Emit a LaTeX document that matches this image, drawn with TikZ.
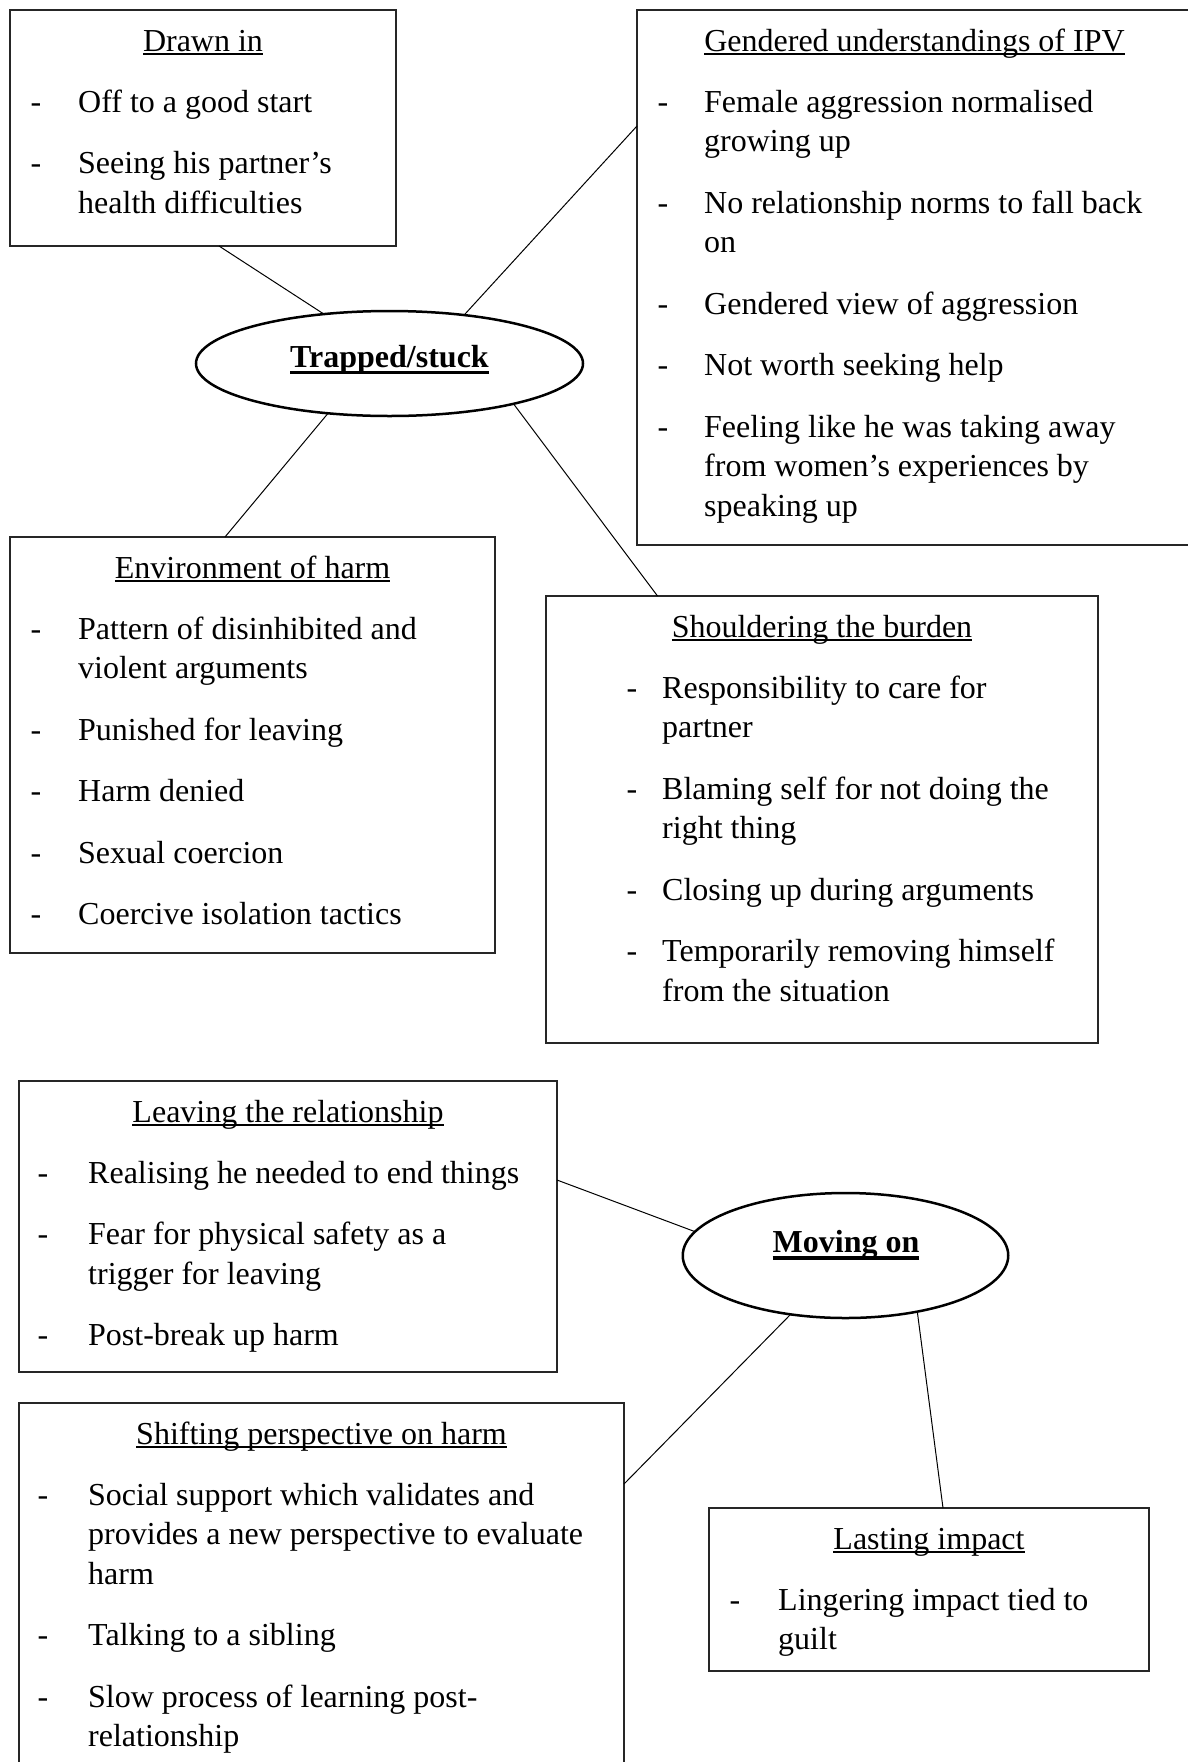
\documentclass[tikz,border=0pt]{standalone}
\usepackage{fontspec}
\setmainfont{Liberation Serif}
\usetikzlibrary{shapes.geometric}
\newcommand\myul[3]{\setbox0\hbox{#3}\rlap{\rule[-#1]{\wd0}{#2}}\box0}
\begin{document}
\begin{tikzpicture}[x=1pt,y=-1pt,
  box/.style={draw=black!85, line width=1.8pt, rectangle, anchor=north west, inner sep=0pt, outer sep=0pt},
  ell/.style={draw=black, line width=2.5pt, ellipse, inner sep=0pt, outer sep=0pt},
  conn/.style={draw=black, line width=1pt},
  txt/.style={inner sep=0pt, anchor=base west, yshift=-2pt, font=\fontsize{32}{39.5}\selectfont},
  ttl/.style={inner sep=0pt, anchor=base, yshift=-3pt, font=\fontsize{32}{39.5}\selectfont},
  bul/.style={inner sep=0pt, anchor=base, yshift=-2pt, font=\fontsize{32}{39.5}\selectfont},
  hub/.style={inner sep=0pt, anchor=base, font=\fontsize{32}{39.5}\selectfont\bfseries},
]
\useasboundingbox[fill=white] (0,0) rectangle (1187,1762);

% boxes
\node[box, minimum width=386pt, minimum height=236pt] (drawn) at (10,10) {};
\node[box, minimum width=555pt, minimum height=535pt] (gend) at (637,10) {};
\node[box, minimum width=485pt, minimum height=416pt] (env) at (10,537) {};
\node[box, minimum width=552pt, minimum height=447pt] (shoul) at (546,596) {};
\node[box, minimum width=538pt, minimum height=291pt] (leav) at (19,1081) {};
\node[box, minimum width=605pt, minimum height=380pt] (shift) at (19,1403) {};
\node[box, minimum width=440pt, minimum height=163pt] (last) at (709,1508) {};

% hubs
\node[ell, minimum width=387pt, minimum height=105pt] (trap) at (389.5,363.5) {};
\node[hub] (trapt) at (389.5,367.3) {\myul{7pt}{3.5pt}{Trapped/stuck}};
\node[ell, minimum width=325.5pt, minimum height=125pt] (mov) at (845.5,1255.5) {};
\node[hub] (movt) at (846,1252.7) {\myul{7pt}{3.5pt}{Moving on}};

% titles
\node[ttl] (drawnt) at (203,48.5) {\myul{3.8pt}{2pt}{Drawn in}};
\node[ttl] (gendt) at (914.5,48.5) {\myul{3.8pt}{2pt}{Gendered understandings of IPV}};
\node[ttl] (envt) at (252.5,575.5) {\myul{3.8pt}{2pt}{Environment of harm}};
\node[ttl] (shoult) at (822,634.5) {\myul{3.8pt}{2pt}{Shouldering the burden}};
\node[ttl] (leavt) at (288,1119.5) {\myul{3.8pt}{2pt}{Leaving the relationship}};
\node[ttl] (shiftt) at (321.5,1441.5) {\myul{3.8pt}{2pt}{Shifting perspective on harm}};
\node[ttl] (lastt) at (929,1546.5) {\myul{3.8pt}{2pt}{Lasting impact}};

% Drawn in
\foreach \y/\t [count=\i] in {110/Off to a good start, 171.5/Seeing his partner’s, 211/health difficulties}
  \node[txt] (drawn-l\i) at (78,\y) {\t};
\foreach \y [count=\i] in {110,171.5}
  \node[bul] (drawn-b\i) at (36,\y) {-};

% Gendered
\foreach \y/\t [count=\i] in {110/Female aggression normalised, 149.5/growing up,
  211/No relationship norms to fall back, 250.5/on, 312/Gendered view of aggression,
  373.5/Not worth seeking help, 435/Feeling like he was taking away,
  474.5/from women’s experiences by, 514/speaking up}
  \node[txt] (gend-l\i) at (704,\y) {\t};
\foreach \y [count=\i] in {110,211,312,373.5,435}
  \node[bul] (gend-b\i) at (663,\y) {-};

% Environment
\foreach \y/\t [count=\i] in {637/Pattern of disinhibited and, 676.5/violent arguments,
  738/Punished for leaving, 799.5/Harm denied, 861/Sexual coercion, 922.5/Coercive isolation tactics}
  \node[txt] (env-l\i) at (78,\y) {\t};
\foreach \y [count=\i] in {637,738,799.5,861,922.5}
  \node[bul] (env-b\i) at (36,\y) {-};

% Shouldering
\foreach \y/\t [count=\i] in {696/Responsibility to care for, 735.5/partner,
  797/Blaming self for not doing the, 836.5/right thing, 898/Closing up during arguments,
  959.5/Temporarily removing himself, 999/from the situation}
  \node[txt] (shoul-l\i) at (662,\y) {\t};
\foreach \y [count=\i] in {696,797,898,959.5}
  \node[bul] (shoul-b\i) at (632,\y) {-};

% Leaving
\foreach \y/\t [count=\i] in {1181/Realising he needed to end things, 1242.5/Fear for physical safety as a,
  1282/trigger for leaving, 1343.5/Post-break up harm}
  \node[txt] (leav-l\i) at (88,\y) {\t};
\foreach \y [count=\i] in {1181,1242.5,1343.5}
  \node[bul] (leav-b\i) at (43,\y) {-};

% Shifting
\foreach \y/\t [count=\i] in {1503/Social support which validates and, 1542.5/provides a new perspective to evaluate,
  1582/harm, 1643.5/Talking to a sibling, 1705/Slow process of learning post-, 1744.5/relationship}
  \node[txt] (shift-l\i) at (88,\y) {\t};
\foreach \y [count=\i] in {1503,1643.5,1705}
  \node[bul] (shift-b\i) at (43,\y) {-};

% Lasting
\foreach \y/\t [count=\i] in {1608/Lingering impact tied to, 1647.5/guilt}
  \node[txt] (last-l\i) at (778,\y) {\t};
\node[bul] (last-b1) at (735,1608) {-};

% connectors
\draw[conn] ([xshift=209pt]drawn.south west) -- (trap.143.2);
\draw[conn] ([yshift=-116pt]gend.north west) -- (trap.33.8);
\draw[conn] ([xshift=215pt]env.north west) -- (trap.219.5);
\draw[conn] ([xshift=111.5pt]shoul.north west) -- (trap.342.7);
\draw[conn] ([yshift=-99pt]leav.north east) -- (mov.171.8);
\draw[conn] ([yshift=-81pt]shift.north east) -- (mov.227.5);
\draw[conn] ([xshift=234pt]last.north west) -- (mov.322.1);
\end{tikzpicture}
\end{document}
